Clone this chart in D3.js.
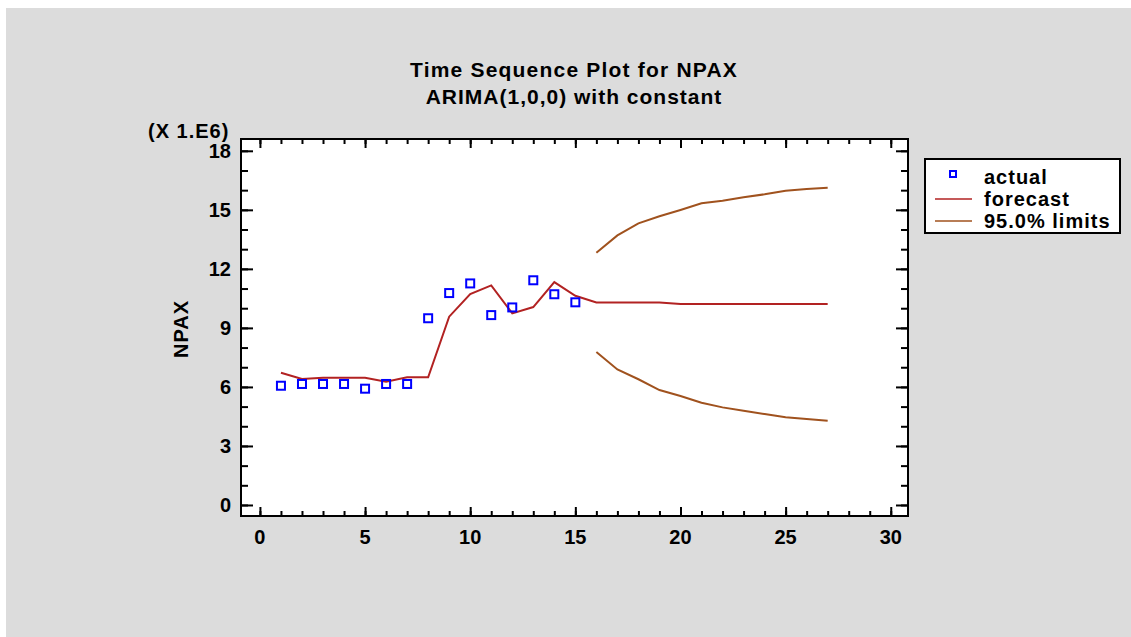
<!DOCTYPE html>
<meta charset="utf-8">
<style>
body { margin: 0; background: #fff; }
text { font-family: "Liberation Sans", Arial, sans-serif; font-weight: bold; fill: #000; }
.frame { fill: #fff; stroke: #000; stroke-width: 2; }
.tick line { stroke: #000; stroke-width: 2; }
</style>
<svg width="1131" height="637"></svg>
<script src="https://cdn.jsdelivr.net/npm/d3@7"></script>
<script>

// values in units of 1e6
var actualT = [1,2,3,4,5,6,7,8,9,10,11,12,13,14,15];
var actual = [6.06,6.15,6.15,6.15,5.91,6.15,6.15,9.49,10.77,11.26,9.65,10.04,11.42,10.71,10.30];

var forecastT = [1,2,3,4,5,6,7,8,9,10,11,12,13,14,15,16,17,18,19,20,21,22,23,24,25,26,27];
var forecast = [6.72,6.40,6.47,6.47,6.47,6.27,6.49,6.49,9.57,10.72,11.16,9.74,10.06,11.33,10.63,
                10.29,10.29,10.29,10.29,10.21,10.21,10.21,10.21,10.21,10.21,10.21,10.21];

var limitT = [16,17,18,19,20,21,22,23,24,25,26,27];
var upper = [12.82,13.70,14.31,14.67,14.99,15.33,15.46,15.64,15.79,15.97,16.06,16.12];
var lower = [7.77,6.89,6.39,5.84,5.54,5.20,4.96,4.79,4.62,4.46,4.37,4.28];

var xTicks = [0,5,10,15,20,25,30];
var yTicks = [0,3,6,9,12,15,18];
var legendLabels = ["actual","forecast","95.0% limits"];

var svg = d3.select("svg");

svg.append("rect").attr("x", 6).attr("y", 8).attr("width", 1125).attr("height", 629).attr("fill", "#dcdcdc");

var pLeft = 241, pRight = 908, pTop = 139, pBottom = 516;

var x = d3.scaleLinear().domain([-0.9, 30.82]).range([pLeft, pRight]);
var y = d3.scaleLinear().domain([-0.56, 18.6]).range([pBottom, pTop]);

svg.append("rect").attr("class", "frame")
    .attr("x", pLeft).attr("y", pTop).attr("width", pRight - pLeft).attr("height", pBottom - pTop);

var xMinor = d3.range(0, 31);
var yMinor = d3.range(0, 19);

function ticks(g, axis) { g.call(axis); g.select(".domain").remove(); g.selectAll("text").remove(); }

// inward ticks on all four sides
svg.append("g").attr("transform", "translate(0," + pBottom + ")")
    .call(ticks, d3.axisTop(x).tickValues(xMinor).tickSize(5));
svg.append("g").attr("transform", "translate(0," + pBottom + ")")
    .call(ticks, d3.axisTop(x).tickValues(xTicks).tickSize(9));
svg.append("g").attr("transform", "translate(0," + pTop + ")")
    .call(ticks, d3.axisBottom(x).tickValues(xMinor).tickSize(5));
svg.append("g").attr("transform", "translate(0," + pTop + ")")
    .call(ticks, d3.axisBottom(x).tickValues(xTicks).tickSize(9));
svg.append("g").attr("transform", "translate(" + pLeft + ",0)")
    .call(ticks, d3.axisRight(y).tickValues(yMinor).tickSize(7));
svg.append("g").attr("transform", "translate(" + pLeft + ",0)")
    .call(ticks, d3.axisRight(y).tickValues(yTicks).tickSize(12));
svg.append("g").attr("transform", "translate(" + pRight + ",0)")
    .call(ticks, d3.axisLeft(y).tickValues(yMinor).tickSize(7));
svg.append("g").attr("transform", "translate(" + pRight + ",0)")
    .call(ticks, d3.axisLeft(y).tickValues(yTicks).tickSize(12));

// tick labels
svg.append("g").selectAll("text").data(xTicks).join("text")
    .attr("x", d => x(d)).attr("y", pBottom + 28)
    .attr("text-anchor", "middle").style("font-size", "20px")
    .text(d => d);
svg.append("g").selectAll("text").data(yTicks).join("text")
    .attr("x", pLeft - 10).attr("y", d => y(d) + 7)
    .attr("text-anchor", "end").style("font-size", "20px")
    .text(d => d);

svg.append("text").attr("x", 148).attr("y", 138).style("font-size", "20px")
    .style("letter-spacing", "1px").text("(X 1.E6)");
svg.append("text").attr("transform", "translate(188,329) rotate(-90)")
    .attr("text-anchor", "middle").style("font-size", "20px")
    .style("letter-spacing", "1px").text("NPAX");

svg.append("text").attr("x", 574).attr("y", 77).attr("text-anchor", "middle")
    .style("font-size", "21px").style("letter-spacing", "1.2px").text("Time Sequence Plot for NPAX");
svg.append("text").attr("x", 574).attr("y", 104).attr("text-anchor", "middle")
    .style("font-size", "21px").style("letter-spacing", "1px").text("ARIMA(1,0,0) with constant");

// series
var line = d3.line().x(d => x(d[0])).y(d => y(d[1]));

svg.append("path").datum(d3.zip(forecastT, forecast)).attr("d", line)
    .attr("fill", "none").attr("stroke", "#b22222").attr("stroke-width", 2);
svg.append("path").datum(d3.zip(limitT, upper)).attr("d", line)
    .attr("fill", "none").attr("stroke", "#a0521e").attr("stroke-width", 2);
svg.append("path").datum(d3.zip(limitT, lower)).attr("d", line)
    .attr("fill", "none").attr("stroke", "#a0521e").attr("stroke-width", 2);

svg.append("g").selectAll("rect").data(d3.zip(actualT, actual)).join("rect")
    .attr("x", d => x(d[0]) - 4).attr("y", d => y(d[1]) - 4)
    .attr("width", 8).attr("height", 8)
    .attr("fill", "none").attr("stroke", "#0000ff").attr("stroke-width", 2);

// legend
var lg = svg.append("g");
lg.append("rect").attr("x", 925).attr("y", 159).attr("width", 195).attr("height", 74)
    .attr("fill", "#fff").attr("stroke", "#000").attr("stroke-width", 2);
lg.append("rect").attr("x", 950).attr("y", 171).attr("width", 6).attr("height", 6)
    .attr("fill", "none").attr("stroke", "#0000ff").attr("stroke-width", 2);
lg.append("line").attr("x1", 935).attr("x2", 972).attr("y1", 199).attr("y2", 199)
    .attr("stroke", "#b22222").attr("stroke-width", 1.5);
lg.append("line").attr("x1", 935).attr("x2", 972).attr("y1", 221).attr("y2", 221)
    .attr("stroke", "#a0521e").attr("stroke-width", 1.5);
lg.selectAll("text").data(legendLabels).join("text")
    .attr("x", 984).attr("y", (d, i) => 184 + i * 22)
    .style("font-size", "20px").style("letter-spacing", "1px").text(d => d);

</script>
